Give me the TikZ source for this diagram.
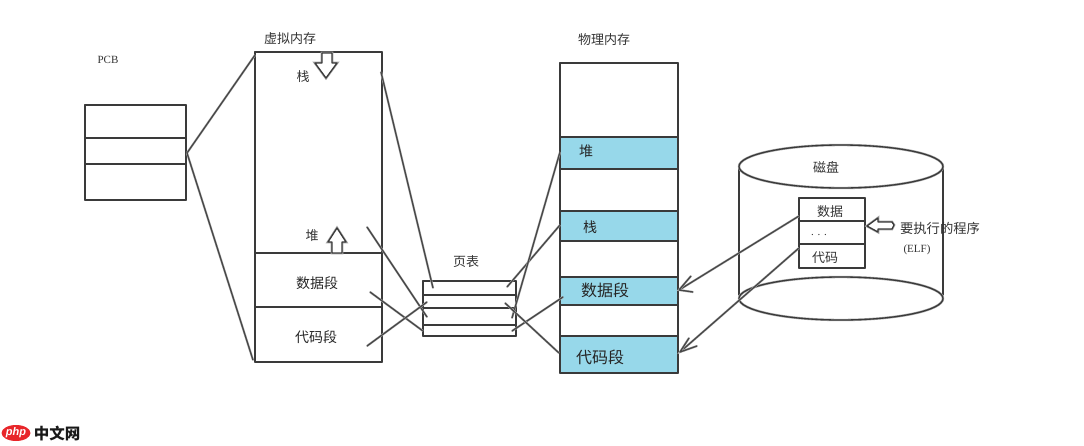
\documentclass[tikz,border=0pt]{standalone}
\usepackage{fontspec}
\setmainfont{Liberation Serif}
\newfontfamily\cjk{Noto Sans CJK SC}
\newfontfamily\logof{Liberation Sans}
\usetikzlibrary{shapes.geometric}
\definecolor{band}{HTML}{97D8EA}
\definecolor{ink}{HTML}{3A3A3A}
\definecolor{logored}{HTML}{E8262A}
\tikzset{
  sk/.style={draw=ink,line width=1.3pt,line cap=round,line join=round,preaction={draw=black!35,line width=2.4pt}},
  conn/.style={draw=black!72,line width=1.3pt,line cap=round,line join=round,preaction={draw=black!30,line width=2.2pt}},
  blockarr/.style={draw=ink,fill=white,line width=1.3pt,line join=round,preaction={draw=black!35,line width=2.6pt}},
  lab/.style={font=\cjk\fontsize{13}{13}\selectfont,text=black!80,inner sep=0pt},
  labm/.style={font=\cjk\fontsize{14}{14}\selectfont,text=black!85,inner sep=0pt},
  labb/.style={font=\cjk\fontsize{16}{16}\selectfont,text=black!85,inner sep=0pt},
  lat/.style={font=\fontsize{11}{11}\selectfont,text=black!80,inner sep=0pt},
}
\begin{document}
\begin{tikzpicture}[x=1pt,y=-1pt]
\useasboundingbox (0,0) rectangle (1084,445);

% PCB
\coordinate (pcbA) at (85,105); \coordinate (pcbB) at (186,200);
\draw[sk] (pcbA) rectangle (pcbB);
\draw[sk] (85,138) -- (186,138);
\draw[sk] (85,164) -- (186,164);
\coordinate (pcbR) at (187,153);

% virtual memory
\draw[sk] (255,52) rectangle (382,362);
\draw[sk] (255,253) -- (382,253);
\draw[sk] (255,307) -- (382,307);
\coordinate (vmTL) at (255,55);
\coordinate (vmBL) at (253,360);
\coordinate (vmStack) at (381,72);
\coordinate (vmHeap) at (367,227);
\coordinate (vmData) at (370,292);
\coordinate (vmCode) at (367,346);
\draw[conn] (pcbR) -- (vmTL);
\draw[conn] (pcbR) -- (vmBL);

% block arrows in virtual memory
\draw[blockarr] (322,53) -- (322,63) -- (315,63) -- (326,78) -- (337,63) -- (332,63) -- (332,53) -- cycle;
\draw[blockarr] (332,253) -- (332,242) -- (328,242) -- (337,228) -- (346,242) -- (342,242) -- (342,253) -- cycle;

% page table
\draw[sk] (423,281) rectangle (516,336);
\draw[sk] (423,295) -- (516,295);
\draw[sk] (423,308) -- (516,308);
\draw[sk] (423,325) -- (516,325);
\coordinate (ptA) at (433,288);
\coordinate (ptB) at (427,317);
\coordinate (ptC) at (423,331);
\coordinate (ptD) at (427,302);
\coordinate (ptE) at (507,287);
\coordinate (ptF) at (512,318);
\coordinate (ptG) at (512,331);
\coordinate (ptH) at (505,303);

% physical memory
\fill[band] (560,137) rectangle (678,169);
\fill[band] (560,211) rectangle (678,241);
\fill[band] (560,277) rectangle (678,305);
\fill[band] (560,336) rectangle (678,373);
\draw[sk] (560,63) rectangle (678,373);
\draw[sk] (560,137) -- (678,137);
\draw[sk] (560,169) -- (678,169);
\draw[sk] (560,211) -- (678,211);
\draw[sk] (560,241) -- (678,241);
\draw[sk] (560,277) -- (678,277);
\draw[sk] (560,305) -- (678,305);
\draw[sk] (560,336) -- (678,336);
\coordinate (pmHeap) at (560,152);
\coordinate (pmStack) at (560,225);
\coordinate (pmData) at (563,297);
\coordinate (pmCode) at (559,353);
\coordinate (pmArrA) at (679,290);
\coordinate (pmArrB) at (680,352);

% page table connectors
\draw[conn] (vmStack) -- (ptA);
\draw[conn] (vmHeap) -- (ptB);
\draw[conn] (vmData) -- (ptC);
\draw[conn] (vmCode) -- (ptD);
\draw[conn] (ptE) -- (pmStack);
\draw[conn] (ptF) -- (pmHeap);
\draw[conn] (ptG) -- (pmData);
\draw[conn] (ptH) -- (pmCode);

% disk
\draw[sk] (739,165) -- (739,295);
\draw[sk] (943,165) -- (943,295);
\draw[sk] (841,166.5) ellipse [x radius=102,y radius=21.5];
\draw[sk] (841,298.5) ellipse [x radius=102,y radius=21.5];

% ELF box
\draw[sk] (799,198) rectangle (865,268);
\draw[sk] (799,221) -- (865,221);
\draw[sk] (799,244) -- (865,244);
\coordinate (elfData) at (799,216);
\coordinate (elfCode) at (799,248);
\draw[conn] (elfData) -- (pmArrA);
\draw[conn] (elfCode) -- (pmArrB);
\draw[conn] (691,276) -- (pmArrA) -- (693,292);
\draw[conn] (689,338) -- (pmArrB) -- (697,346);
\draw[blockarr] (867,226) -- (878,218) -- (878,222) -- (892,222) -- (894,225) -- (892,229) -- (878,229) -- (878,232) -- cycle;

% labels
\node[lat] (tPcb) at (108,60) {PCB};
\node[lab] (tVm) at (290,39) {虚拟内存};
\node[lab] (tStack) at (303,77) {栈};
\node[lab] (tHeap) at (312,236) {堆};
\node[labm] (tData) at (317,283) {数据段};
\node[labm] (tCode) at (316,337) {代码段};
\node[lab] (tPt) at (466,262) {页表};
\node[lab] (tPm) at (604,40) {物理内存};
\node[labm] (tpHeap) at (586,151) {堆};
\node[labm] (tpStack) at (590,227) {栈};
\node[labb] (tpData) at (605,290) {数据段};
\node[labb] (tpCode) at (600,357) {代码段};
\node[lab] (tDisk) at (826,167) {磁盘};
\node[lab] (tdData) at (830,212) {数据};
\node[lat] (tdDots) at (819,235) {. . .};
\node[lab] (tdCode) at (825,258) {代码};
\node[lab,font=\cjk\fontsize{13.3}{13.3}\selectfont] (tRun) at (940,228) {要执行的程序};
\node[lat] (tElf) at (917,250) {(ELF)};

% logo
\node[ellipse,fill=logored,minimum width=29pt,minimum height=16pt,inner sep=0pt,text=white,font=\logof\itshape\bfseries\fontsize{11}{11}\selectfont] (logo) at (16,433) {php};
\node[font=\cjk\bfseries\fontsize{15.5}{15.5}\selectfont,inner sep=0pt,text=black!90] (logoT) at (57,434) {中文网};
\end{tikzpicture}
\end{document}
